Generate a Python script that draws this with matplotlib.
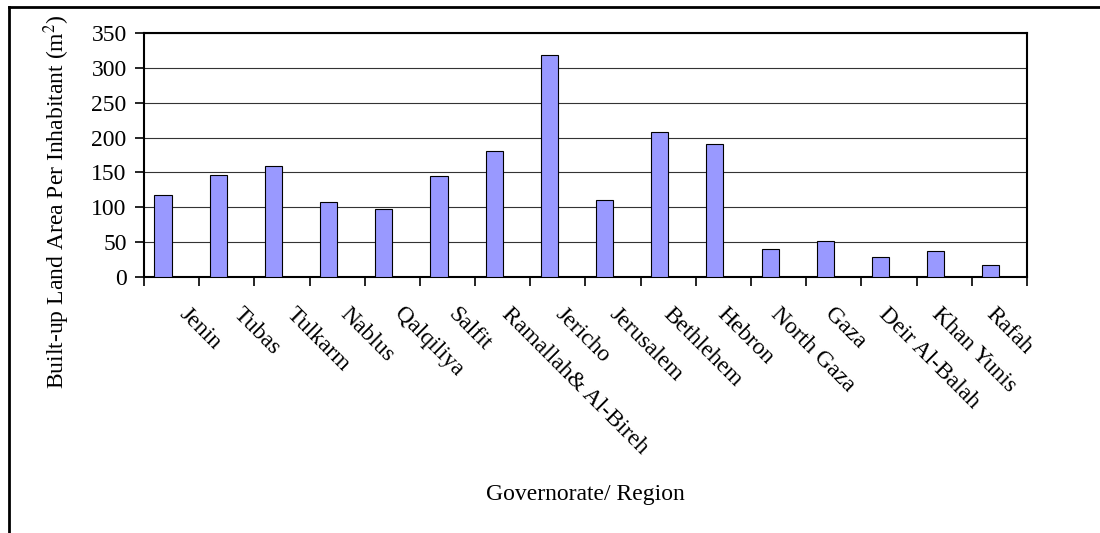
import numpy as np
import matplotlib
matplotlib.use("Agg")
import matplotlib.pyplot as plt
from matplotlib.lines import Line2D

# ── Data ──────────────────────────────────────────────────────────────────────
regions = ["Jenin", "Tubas", "Tulkarm", "Nablus", "Qalqiliya", "Salfit",
           "Ramallah& Al-Bireh", "Jericho", "Jerusalem", "Bethlehem", "Hebron",
           "North Gaza", "Gaza", "Deir Al-Balah", "Khan Yunis", "Rafah"]
area_per_inhabitant = [117, 146, 159, 107, 98, 145, 181, 318, 110, 208, 191,
                       40, 52, 28, 37, 17]
y_ticks = [0, 50, 100, 150, 200, 250, 300, 350]

# ── Style ─────────────────────────────────────────────────────────────────────
plt.rcParams["font.family"] = ["Liberation Serif", "DejaVu Serif"]
plt.rcParams["mathtext.fontset"] = "stix"
C_BAR = "#9999ff"
FS = 17

fig = plt.figure(figsize=(11, 5.33), dpi=100, facecolor="white")
ax = fig.add_axes([0.1309, 0.4803, 0.8027, 0.4578])

x = np.arange(len(regions))
w = 0.31
ax.bar(x - w / 2, area_per_inhabitant, width=w, color=C_BAR,
       edgecolor="black", linewidth=0.8, zorder=3)

ax.set_xlim(-0.5, len(regions) - 0.5)
ax.set_ylim(0, 350)
ax.set_yticks(y_ticks)
ax.yaxis.grid(True, color="#333333", linewidth=0.8, zorder=0)
ax.tick_params(axis="y", direction="out", length=6.5, width=1.2,
               labelsize=FS, pad=6)

# category boundary ticks, labels placed separately (Excel-like offset)
ax.set_xticks(np.arange(len(regions) + 1) - 0.5, minor=True)
ax.tick_params(axis="x", which="minor", direction="out", length=6.5, width=1.2)
lab_pos = x * 0.9746 + 0.33
ax.set_xticks(lab_pos)
ax.set_xticklabels(regions, rotation=-45, ha="left", va="top",
                   rotation_mode="anchor", fontsize=FS)
ax.tick_params(axis="x", which="major", length=0, pad=19)

for s in ax.spines.values():
    s.set_linewidth(1.5)
    s.set_color("black")

ax.set_ylabel(r"Built-up Land Area Per Inhabitant (m$^{2}$)", fontsize=FS)
ax.yaxis.set_label_coords(-0.081, 0.311)
ax.set_xlabel("Governorate/ Region", fontsize=FS)
ax.xaxis.set_label_coords(0.5, -0.85)

# ── Outer frame (top/left visible) ────────────────────────────────────────────
fig.add_artist(Line2D([9 / 1100, 9 / 1100], [0, 1 - 7 / 533],
                      color="black", linewidth=2, transform=fig.transFigure))
fig.add_artist(Line2D([9 / 1100, 1], [1 - 7 / 533, 1 - 7 / 533],
                      color="black", linewidth=2, transform=fig.transFigure))

fig.savefig("out.png", dpi=100, facecolor="white")
